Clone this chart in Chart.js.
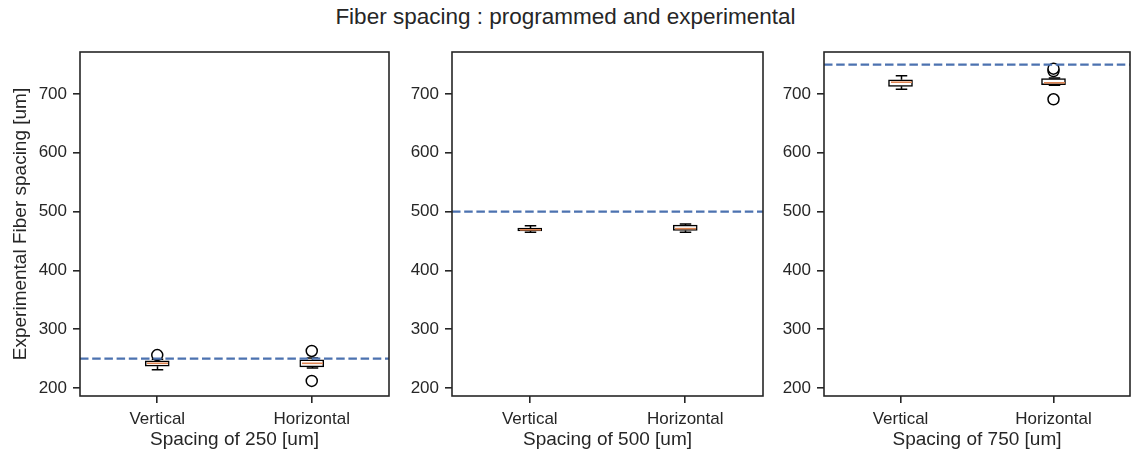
<!DOCTYPE html>
<html>
<head>
<meta charset="utf-8">
<script src="https://cdn.jsdelivr.net/npm/chart.js@4"></script>
<style>
  body { margin: 0; background: #fff; }
  #wrap { position: relative; width: 1131px; height: 454px; overflow: hidden; }
  #title {
    position: absolute; left: 0; width: 1131px; top: 4px; text-align: center;
    font-family: "Liberation Sans", Arial, sans-serif; font-size: 22.5px; color: #262626;
  }
  .panel { position: absolute; top: 50px; height: 404px; }
</style>
</head>
<body>
<div id="wrap">
  <div id="title">Fiber spacing : programmed and experimental</div>
  <div class="panel" id="p0"><canvas id="c0"></canvas></div>
  <div class="panel" id="p1"><canvas id="c1"></canvas></div>
  <div class="panel" id="p2"><canvas id="c2"></canvas></div>
</div>
<script>
// categories and programmed spacings
const categories = ['Vertical', 'Horizontal'];
const spacings = [250, 500, 750];
const xTitles = ['Spacing of 250 [um]', 'Spacing of 500 [um]', 'Spacing of 750 [um]'];
const yTitle = 'Experimental Fiber spacing [um]';

// box statistics per panel, [Vertical, Horizontal]
const whiskerLow  = [[231, 234], [465, 465], [708, 715]];
const q1          = [[237, 236], [467, 468], [713, 716]];
const medians     = [[242, 242], [469, 471], [720, 719]];
const q3          = [[246, 248], [472, 477], [724, 726]];
const whiskerHigh = [[249, 251], [476, 479], [731, 727]];
const outliers    = [[[256], [212, 263]], [[], []], [[], [691, 739, 743]]];

// y axis
const yTicks = [200, 300, 400, 500, 600, 700];
const yMin = 186.4;
const yMax = 771.4;

// layout of the three panels (plot area pixels)
const plotLeft = [80, 452, 824];
const plotRight = [389, 763, 1130];
const yAxisWidth = [80, 60, 60];

const ink = '#262626';
Chart.defaults.font.family = '"Liberation Sans", Arial, sans-serif';
Chart.defaults.color = ink;

// no extra room for overhanging tick labels
function noPadding(scale) {
  scale.paddingTop = 0;
  scale.paddingBottom = 0;
  scale.paddingLeft = 0;
  scale.paddingRight = 0;
}

// draws whiskers, caps, medians, reference line and the frame
const boxPlugin = {
  id: 'boxExtras',
  afterDatasetsDraw(chart) {
    const i = chart.options.plugins.boxExtras.panel;
    const ctx = chart.ctx;
    const xs = chart.scales.x;
    const ys = chart.scales.y;
    const area = chart.chartArea;
    const boxW = 23;
    ctx.save();
    categories.forEach((c, j) => {
      const x = Math.round(xs.getPixelForValue(j)) + 0.5;
      ctx.strokeStyle = '#000';
      ctx.lineWidth = 1.5;
      ctx.beginPath();
      ctx.moveTo(x, ys.getPixelForValue(q3[i][j]));
      ctx.lineTo(x, ys.getPixelForValue(whiskerHigh[i][j]));
      ctx.moveTo(x, ys.getPixelForValue(q1[i][j]));
      ctx.lineTo(x, ys.getPixelForValue(whiskerLow[i][j]));
      const yh = ys.getPixelForValue(whiskerHigh[i][j]);
      const yl = ys.getPixelForValue(whiskerLow[i][j]);
      ctx.moveTo(x - boxW / 4, yh); ctx.lineTo(x + boxW / 4, yh);
      ctx.moveTo(x - boxW / 4, yl); ctx.lineTo(x + boxW / 4, yl);
      ctx.stroke();
      ctx.strokeStyle = '#dd8452';
      ctx.lineWidth = 1.6;
      const ym = ys.getPixelForValue(medians[i][j]);
      ctx.beginPath();
      ctx.moveTo(x - boxW / 2 + 1, ym); ctx.lineTo(x + boxW / 2 - 1, ym);
      ctx.stroke();
    });
    // programmed spacing
    const yr = ys.getPixelForValue(spacings[i]);
    ctx.strokeStyle = '#4c72b0';
    ctx.lineWidth = 2.3;
    ctx.setLineDash([8.5, 3.7]);
    ctx.beginPath();
    ctx.moveTo(area.left, yr); ctx.lineTo(area.right, yr);
    ctx.stroke();
    ctx.setLineDash([]);
    // frame
    ctx.strokeStyle = ink;
    ctx.lineWidth = 1.6;
    ctx.strokeRect(area.left, area.top, area.right - area.left, area.bottom - area.top);
    ctx.restore();
  }
};

function makePanel(i) {
  const left = plotLeft[i] - yAxisWidth[i];
  const holder = document.getElementById('p' + i);
  holder.style.left = left + 'px';
  holder.style.width = (plotRight[i] - left + 2) + 'px';

  const outlierPoints = [];
  categories.forEach((c, j) => {
    outliers[i][j].forEach(v => outlierPoints.push({ x: c, y: v }));
  });

  new Chart(document.getElementById('c' + i), {
    type: 'bar',
    data: {
      labels: categories,
      datasets: [
        {
          data: categories.map((c, j) => [q1[i][j], q3[i][j]]),
          backgroundColor: '#ffffff',
          borderColor: '#000000',
          borderWidth: 1.5,
          borderSkipped: false,
          barThickness: 24
        },
        {
          type: 'line',
          data: outlierPoints,
          showLine: false,
          pointStyle: 'circle',
          pointRadius: 5.5,
          pointBorderWidth: 1.5,
          pointBorderColor: '#000000',
          pointBackgroundColor: '#ffffff'
        }
      ]
    },
    options: {
      responsive: true,
      maintainAspectRatio: false,
      animation: false,
      layout: { autoPadding: false, padding: { top: 2, right: 2, left: 0, bottom: 0 } },
      plugins: {
        legend: { display: false },
        tooltip: { enabled: false },
        boxExtras: { panel: i }
      },
      scales: {
        x: {
          offset: true,
          grid: { offset: false, drawOnChartArea: false, drawTicks: true, tickLength: 7, tickColor: ink, lineWidth: 1.6 },
          border: { display: false },
          ticks: { color: ink, font: { size: 17 }, padding: 6, maxRotation: 0 },
          title: { display: true, text: xTitles[i], color: ink, font: { size: 19 }, padding: { top: 0, bottom: 3 } },
          afterFit(scale) { scale.height = 58; noPadding(scale); }
        },
        y: {
          min: yMin,
          max: yMax,
          afterBuildTicks(scale) { scale.ticks = yTicks.map(v => ({ value: v })); },
          grid: { drawOnChartArea: false, drawTicks: true, tickLength: 7, tickColor: ink, lineWidth: 1.6 },
          border: { display: false },
          ticks: { color: ink, font: { size: 17 }, padding: 6 },
          title: { display: i === 0, text: yTitle, color: ink, font: { size: 19 }, padding: { top: 9, bottom: 0 } },
          afterFit(scale) { scale.width = yAxisWidth[i]; noPadding(scale); }
        }
      }
    },
    plugins: [boxPlugin]
  });
}

[0, 1, 2].forEach(makePanel);
</script>
</body>
</html>
